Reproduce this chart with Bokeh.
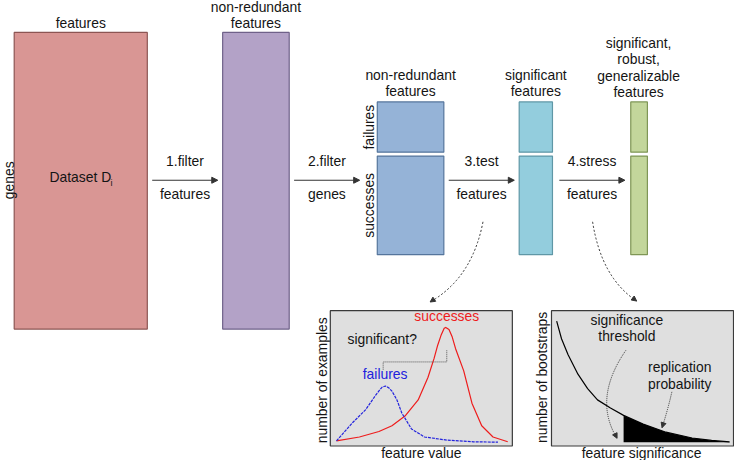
import numpy as np
from bokeh.plotting import figure
from bokeh.models import Range1d, Arrow, NormalHead, ColumnDataSource
from bokeh.embed import file_html
from bokeh.resources import INLINE
from bokeh.core.properties import value

# ---------------- data ----------------
# pipeline stages: box name, fill colour, border colour
stage_names = ["dataset", "nonred1", "nonred2_f", "nonred2_s", "signif_f", "signif_s", "robust_f", "robust_s"]
stage_fill = ["#d99694", "#b3a2c7", "#95b3d7", "#95b3d7", "#93cddd", "#93cddd", "#c3d69b", "#c3d69b"]
stage_line = ["#8c5553", "#6f6189", "#55759c", "#55759c", "#5f97a6", "#5f97a6", "#7f9656", "#7f9656"]

step_top = ["1.filter", "2.filter", "3.test", "4.stress"]
step_bottom = ["features", "genes", "features", "features"]

# left inset: distributions (feature value 0-100, relative count 0-100)
succ_x = [0, 13.4, 24.8, 32.4, 40.0, 47.7, 53.4, 57.0, 59.1, 61.0, 62.9, 63.8, 65.7, 67.6, 69.5, 74.3, 79.1, 84.8, 91.4, 100]
succ_y = [1.1, 4.5, 9.3, 14.3, 22.7, 36.8, 56.4, 73.0, 84.5, 92.9, 99.2, 100, 98.1, 91.6, 81.7, 62.1, 34.0, 14.3, 4.5, 0.3]
fail_x = [0, 9.5, 17.1, 22.9, 24.8, 26.7, 28.6, 30.5, 32.4, 35.3, 38.1, 43.8, 51.4, 64.8, 80.0, 94.3]
fail_y = [1.1, 17.1, 28.4, 41.0, 44.7, 48.0, 48.9, 47.4, 44.4, 36.8, 25.5, 11.5, 4.5, 1.7, 0.3, 0.0]

# right inset: bootstrap counts vs feature significance (0-100)
boot_x = [0, 2.8, 6.6, 12.3, 17.9, 23.6, 31.1, 38.7, 50.0, 63.2, 78.3, 89.6, 100]
boot_y = [100, 85.4, 72.1, 56.1, 44.2, 34.9, 28.2, 22.1, 14.9, 8.2, 3.4, 1.4, 0.2]
threshold = 38.7

# ---------------- layout (reference pixel frame, y down) ----------------
BOX = {
    "dataset": (14, 150, 33, 340), "nonred1": (227, 295, 33, 340),
    "nonred2_f": (385, 453, 105, 157), "nonred2_s": (385, 453, 161, 263),
    "signif_f": (530, 564, 105, 157), "signif_s": (530, 564, 161, 263),
    "robust_f": (644, 661, 105, 157), "robust_s": (644, 661, 161, 263),
}
ARROW_X = [(155, 222), (300, 367), (458, 525), (571, 638)]
ARROW_Y = 186
P1 = dict(l=337, r=523, t=321, b=461, x0=343.3, x1=518.3, y0=457, y1=338.3)
P2 = dict(l=563, r=749, t=321, b=461, x0=568.3, x1=745, y0=457, y1=331.7)

FONT = value("Liberation Sans")
FS = value("13.9px")
INK = "#141414"

p = figure(width=734, height=460, x_range=Range1d(0, 750), y_range=Range1d(476, 0),
           output_backend="svg", toolbar_location=None, min_border=0,
           x_axis_location=None, y_axis_location=None)
p.grid.visible = False
p.outline_line_color = None
p.background_fill_color = "white"


def txt(x, y, t, color=INK, angle=0.0, align="center", size=FS):
    p.text(x=[x], y=[y], text=[t], text_color=color, angle=angle, text_align=align,
           text_baseline="middle", text_font=FONT, text_font_size=size)


# pipeline boxes
src = ColumnDataSource(dict(
    left=[BOX[n][0] for n in stage_names], right=[BOX[n][1] for n in stage_names],
    top=[BOX[n][2] for n in stage_names], bottom=[BOX[n][3] for n in stage_names],
    fill=stage_fill, line=stage_line))
p.quad(left="left", right="right", top="top", bottom="bottom", fill_color="fill",
       line_color="line", line_width=1.2, source=src)

# titles above boxes
txt(82, 23, "features")
txt(261, 7, "non-redundant"); txt(261, 23, "features")
txt(419, 77, "non-redundant"); txt(419, 94, "features")
txt(547, 77, "significant"); txt(547, 94, "features")
for yy, t in zip([44, 61, 78, 95], ["significant,", "robust,", "generalizable", "features"]):
    txt(652, yy, t)

txt(50, 183, "Dataset D", align="left")
txt(112.5, 189, "i", align="left", size=value("9px"))
txt(8.5, 186, "genes", angle=np.pi / 2)
txt(377, 131, "failures", angle=np.pi / 2)
txt(377, 212, "successes", angle=np.pi / 2)

# step arrows
for (xa, xb), t1, t2 in zip(ARROW_X, step_top, step_bottom):
    p.add_layout(Arrow(end=NormalHead(size=6, fill_color="#333333", line_color="#333333"),
                       x_start=xa, y_start=ARROW_Y, x_end=xb, y_end=ARROW_Y,
                       line_color="#333333", line_width=1.2))
    cx = (xa + xb) / 2
    txt(cx, 166, t1)
    txt(cx, 200, t2)


def curved_arrow(x0, y0, cx, cy, x1, y1, dash):
    p.quadratic(x0=[x0], y0=[y0], cx=[cx], cy=[cy], x1=[x1], y1=[y1],
                line_color="#333333", line_width=1, line_dash=dash)
    t = 0.85
    hx = (1 - t) ** 2 * x0 + 2 * (1 - t) * t * cx + t ** 2 * x1
    hy = (1 - t) ** 2 * y0 + 2 * (1 - t) * t * cy + t ** 2 * y1
    p.add_layout(Arrow(end=NormalHead(size=5, fill_color="#333333", line_color="#333333"),
                       x_start=hx, y_start=hy, x_end=x1, y_end=y1, line_alpha=0))


curved_arrow(493, 229, 482, 287, 439, 312, "2 2")
curved_arrow(605, 229, 614, 287, 650, 311, "2 2")

# ---------- inset panels ----------
for P in (P1, P2):
    p.quad(left=[P["l"]], right=[P["r"]], top=[P["t"]], bottom=[P["b"]],
           fill_color="#dfdfdf", line_color="#3a3a3a", line_width=1.2)


def px(P, xs):
    return [P["x0"] + v / 100 * (P["x1"] - P["x0"]) for v in xs]


def py(P, ys):
    return [P["y0"] + v / 100 * (P["y1"] - P["y0"]) for v in ys]


p.line(px(P1, succ_x), py(P1, succ_y), line_color="#ee1c1c", line_width=1.2, line_join="round")
p.line(px(P1, fail_x), py(P1, fail_y), line_color="#2222dd", line_width=1.2, line_dash="3 1", line_join="round")
p.line([391, 391, 456, 456], [382, 374, 374, 362], line_color="#555555", line_width=1, line_dash="1 1")
txt(456, 326, "successes", color="#ee1c1c")
txt(390, 350, "significant?")
txt(393, 387, "failures", color="#2222dd")
txt(328, 393, "number of examples", angle=np.pi / 2)
txt(430, 468, "feature value")

bx = np.array(boot_x)
by = np.array(boot_y)
mask = bx >= threshold
p.varea(x=px(P2, bx[mask]), y1=py(P2, by[mask]), y2=py(P2, np.zeros(mask.sum())), fill_color="black")
p.line(px(P2, boot_x), py(P2, boot_y), line_color="black", line_width=1.2, line_join="round")
txt(640, 331, "significance"); txt(640, 347, "threshold")
txt(694, 379, "replication"); txt(694, 397, "probability")
txt(553, 390, "number of bootstraps", angle=np.pi / 2)
txt(655, 468, "feature significance")
curved_arrow(639, 362, 605, 412, 630, 453, "1 1")
curved_arrow(686, 405, 682, 423, 676, 442, "1 1")

open("out.html", "w").write(file_html(p, INLINE))
